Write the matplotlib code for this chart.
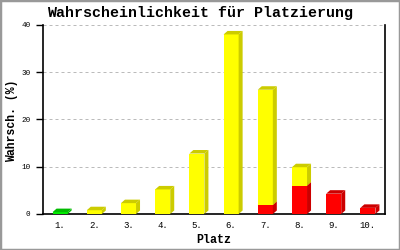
import matplotlib
matplotlib.use('Agg')
from matplotlib import pyplot as plt
from matplotlib.patches import Polygon, Rectangle

# data
places = ['1.', '2.', '3.', '4.', '5.', '6.', '7.', '8.', '9.', '10.']
green = [0.4, 0, 0, 0, 0, 0, 0, 0, 0, 0]
yellow = [0, 0.8, 2.3, 5.2, 12.8, 38.0, 24.4, 3.9, 0, 0]
red = [0, 0, 0, 0, 0, 0, 1.9, 6.0, 4.3, 1.3]
yticks = [0, 10, 20, 30, 40]

mono = 'Liberation Mono'

fig = plt.figure(figsize=(4, 2.5), dpi=100)
ax = fig.add_axes([43/400, 36/250, 342/400, 189/250])
ax.set_xlim(0.5, 10.5)
ax.set_ylim(0, 40)

w = 0.44
dx = 4/34.2
dy = 3.5/4.72

x = list(range(1, len(places)+1))

def bar3d(xs, bottoms, heights, front, side):
    ax.bar(xs, heights, w, bottom=bottoms, color=front, zorder=3, linewidth=0)
    for xi, b, h in zip(xs, bottoms, heights):
        if h <= 0:
            continue
        xr = xi + w/2
        xl = xi - w/2
        t = b + h
        ax.add_patch(Polygon([(xr, b), (xr+dx, b+dy), (xr+dx, t+dy), (xr, t)],
                             closed=True, fc=side, ec='none', zorder=3))
        ax.add_patch(Polygon([(xl, t), (xl+dx, t+dy), (xr+dx, t+dy), (xr, t)],
                             closed=True, fc=side, ec='none', zorder=3))

zeros = [0]*len(places)
bar3d(x, zeros, green, '#00ee00', '#00bb00')
bar3d(x, zeros, red, '#ff0000', '#cc0000')
bar3d(x, red, yellow, '#ffff00', '#cccc00')

for v in yticks[1:]:
    ax.axhline(v, color='#bbbbbb', lw=0.72, ls=(0, (3, 3)), zorder=1)

for s in ['top']:
    ax.spines[s].set_visible(False)
for s in ['left', 'bottom', 'right']:
    ax.spines[s].set_linewidth(1.2)

ax.set_xticks(x)
ax.set_xticklabels(places, fontfamily=mono, fontsize=6.5)
ax.tick_params(axis='x', length=0, pad=5)
ax.set_yticks(yticks)
ax.set_yticklabels([str(v) for v in yticks], fontfamily=mono, fontsize=5.5)
ax.tick_params(axis='y', length=5, width=1, pad=4, right=False)

fig.text(0.5, 0.948, 'Wahrscheinlichkeit für Platzierung', ha='center', va='center',
         fontfamily=mono, fontweight='bold', fontsize=10.8)
fig.text(0.03, 0.518, 'Wahrsch. (%)', ha='center', va='center', rotation=90,
         fontfamily=mono, fontweight='bold', fontsize=8.3)
fig.text(214/400, 1-240/250, 'Platz', ha='center', va='center',
         fontfamily=mono, fontweight='bold', fontsize=8.4)

fig.patches.append(Rectangle((0, 0), 1, 1, transform=fig.transFigure, fill=False,
                             ec='#999999', lw=2.5))

fig.savefig('out.png', dpi=100)
